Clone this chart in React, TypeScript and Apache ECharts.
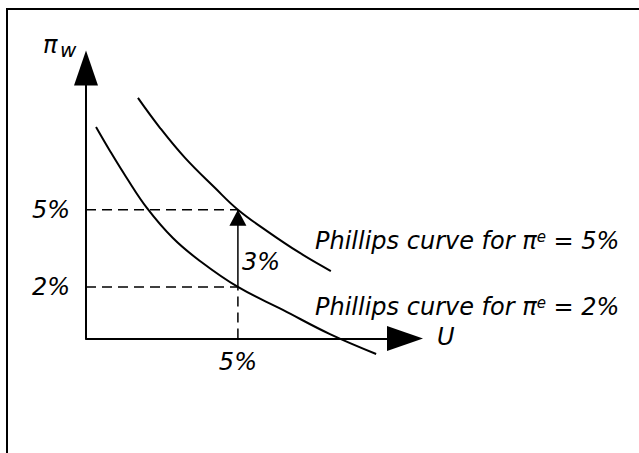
import React, { useEffect, useRef } from "react";
import * as echarts from "echarts";

// Unemployment rate U (%) and wage inflation πw (%)
const upperU = [1.71, 2.44, 3.26, 4.25, 5, 5.96, 7.04, 8.06];
const upperPi = [9.34, 8.17, 7.01, 5.84, 5, 4.17, 3.32, 2.62];
const lowerU = [0.33, 0.79, 1.32, 2.01, 2.86, 3.75, 5, 6.48, 8.03, 9.55];
const lowerPi = [8.21, 7.28, 6.27, 5.06, 3.9, 3.01, 2, 1.11, 0.17, -0.6];

const naturalU = 5;
const lowExpected = 2;
const highExpected = 5;
const xTickValues = [5];
const yTickValues = [2, 5];
const curveLabels = ["5%", "2%"];

const FONT = '"DejaVu Sans", Verdana, sans-serif';

export default function App() {
  const ref = useRef<HTMLDivElement>(null);
  useEffect(() => {
    const chart = echarts.init(ref.current!, null, { renderer: "svg" });
    const pair = (xs: number[], ys: number[]) => xs.map((x, i) => [x, ys[i]]);
    const labelFont = {
      fontSize: 24,
      fontFamily: FONT,
      fontStyle: "italic",
      color: "#000",
    };
    const dashed = (data: number[][]) => ({
      type: "line",
      data,
      symbol: "none",
      silent: true,
      clip: false,
      lineStyle: { color: "#000", width: 1.5, type: [10, 6] },
    });
    const textEl = (x: number, y: number, text: string, size = 24, extra: any = {}) => ({
      type: "text",
      x,
      y,
      silent: true,
      z: 10,
      style: {
        text,
        fontSize: size,
        fontFamily: FONT,
        fontStyle: "italic",
        fill: "#000",
        textAlign: "left",
        textVerticalAlign: "middle",
        align: "left",
        verticalAlign: "middle",
        ...extra,
      },
    });
    const richLabel = (x: number, y: number, val: string) =>
      textEl(x, y, `{a|Phillips curve for π}{b|e}{a| = ${val}}`, 24, {
        rich: {
          a: { fontSize: 24, fontFamily: FONT, fontStyle: "italic", fill: "#000", color: "#000" },
          b: {
            fontSize: 15,
            fontFamily: FONT,
            fontStyle: "italic",
            fill: "#000",
            color: "#000",
            verticalAlign: "top",
          },
        },
      });
    const curve = (name: string, data: number[][]) => ({
      type: "line",
      name,
      data,
      smooth: 0.4,
      symbol: "none",
      silent: true,
      clip: false,
      lineStyle: { color: "#000", width: 2 },
    });

    chart.setOption({
      animation: false,
      backgroundColor: "#fff",
      grid: { left: 86, top: 68, width: 319, height: 270.5, outerBoundsMode: "none" },
      xAxis: {
        type: "value",
        min: 0,
        max: 10.5,
        splitLine: { show: false },
        axisTick: { show: false },
        axisLine: {
          show: true,
          symbol: ["none", "triangle"],
          symbolSize: [25, 36],
          lineStyle: { color: "#000", width: 2 },
        },
        axisLabel: {
          show: true,
          customValues: xTickValues,
          formatter: (v: number) => `${v}%`,
          margin: 11,
          ...labelFont,
        },
      },
      yAxis: {
        type: "value",
        min: 0,
        max: 10.5,
        splitLine: { show: false },
        axisTick: { show: false },
        axisLine: {
          show: true,
          symbol: ["none", "triangle"],
          symbolSize: [24, 35],
          lineStyle: { color: "#000", width: 2 },
        },
        axisLabel: {
          show: true,
          customValues: yTickValues,
          formatter: (v: number) => `${v}%`,
          margin: 16,
          ...labelFont,
        },
      },
      series: [
        curve("Phillips curve πe = 5%", pair(upperU, upperPi)),
        curve("Phillips curve πe = 2%", pair(lowerU, lowerPi)),
        dashed([[0, highExpected], [naturalU, highExpected]]),
        dashed([[0, lowExpected], [naturalU, lowExpected]]),
        dashed([[naturalU, 0], [naturalU, lowExpected]]),
        {
          type: "line",
          data: [[naturalU, lowExpected], [naturalU, highExpected]],
          symbol: "none",
          silent: true,
          clip: false,
          lineStyle: { color: "#000", width: 1.5 },
        },
        {
          type: "scatter",
          data: [[naturalU, highExpected]],
          symbol: "triangle",
          symbolSize: [17, 16],
          symbolOffset: [0, "50%"],
          silent: true,
          clip: false,
          itemStyle: { color: "#000", opacity: 1 },
        },
      ],
      graphic: [
        {
          type: "rect",
          silent: true,
          z: 0,
          shape: { x: 7, y: 9, width: 720, height: 520 },
          style: { fill: "none", stroke: "#000", lineWidth: 2 },
        },
        textEl(43, 45, "π", 24),
        textEl(60, 50, "w", 20),
        textEl(437, 337, "U", 24),
        textEl(242, 262, `${highExpected - lowExpected}%`, 24),
        richLabel(315, 241, curveLabels[0]),
        richLabel(315, 307, curveLabels[1]),
      ],
    });
    return () => chart.dispose();
  }, []);
  return (
    <div
      ref={ref}
      style={{ position: "absolute", left: 0, top: 0, width: 639, height: 453, background: "#fff" }}
    />
  );
}
